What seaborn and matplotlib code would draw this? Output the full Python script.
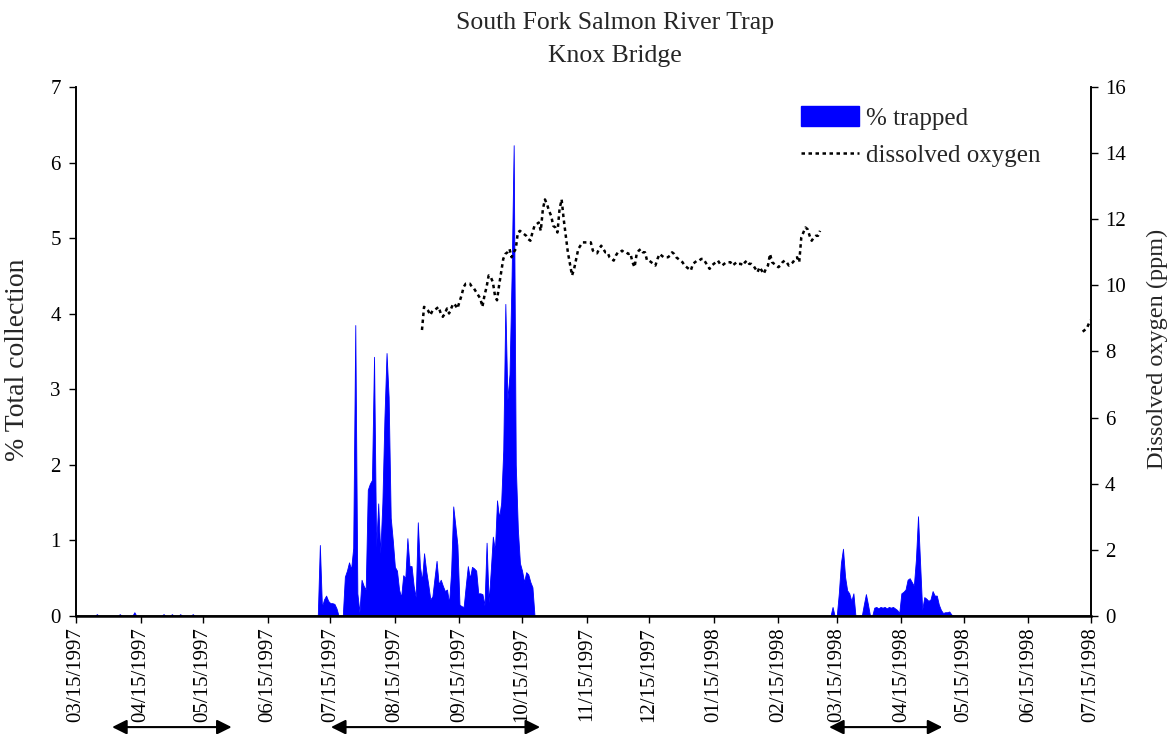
import pandas as pd
import matplotlib
matplotlib.use("Agg")
import matplotlib.pyplot as plt
from matplotlib.patches import Patch
from matplotlib.lines import Line2D
import seaborn as sns

sns.set_theme(style="ticks")
plt.rcParams['font.family'] = ['Liberation Serif', 'DejaVu Serif']

# % trapped, daily values (three runs of trapping + a few early catches)
trap_summer_start = "1997-07-09"
trap_summer = [0.0, 0.94, 0.12, 0.22, 0.27, 0.2, 0.17, 0.17, 0.16, 0.1,
               0.0, 0.0, 0.0, 0.52, 0.6, 0.71, 0.62, 0.9, 3.85, 0.3,
               0.05, 0.48, 0.4, 0.35, 1.67, 1.75, 1.8, 3.43, 0.91, 1.49,
               0.83, 1.5, 2.63, 3.48, 2.9, 1.3, 1.0, 0.65, 0.6, 0.35,
               0.25, 0.54, 0.5, 1.03, 0.66, 0.66, 0.4, 0.25, 1.24, 0.66,
               0.47, 0.83, 0.6, 0.42, 0.22, 0.26, 0.5, 0.73, 0.42, 0.48,
               0.4, 0.33, 0.35, 0.17, 0.6, 1.45, 1.2, 0.94, 0.15, 0.13,
               0.12, 0.4, 0.66, 0.5, 0.65, 0.63, 0.6, 0.3, 0.3, 0.29,
               0.14, 0.97, 0.18, 0.6, 1.05, 0.87, 1.53, 1.3, 1.5, 2.2,
               4.13, 2.86, 3.2, 4.5, 6.23, 2.0, 1.15, 0.7, 0.6, 0.45,
               0.58, 0.55, 0.45, 0.38, 0.0]

trap_spring_start = "1998-03-12"
trap_spring = [0.0, 0.12, 0.0, 0.0, 0.3, 0.7, 0.89, 0.52, 0.34, 0.3,
               0.2, 0.3, 0.0, 0.0, 0.0, 0.0, 0.15, 0.29, 0.15, 0.0,
               0.0, 0.11, 0.12, 0.1, 0.12, 0.11, 0.12, 0.1, 0.12, 0.11,
               0.12, 0.1, 0.08, 0.04, 0.3, 0.32, 0.35, 0.48, 0.5, 0.45,
               0.4, 0.75, 1.32, 0.7, 0.08, 0.25, 0.23, 0.2, 0.22, 0.33,
               0.27, 0.27, 0.15, 0.08, 0.04, 0.05, 0.05, 0.06, 0.02, 0.0]

early_dates = ["1997-03-25", "1997-04-05", "1997-04-12", "1997-04-26",
               "1997-04-30", "1997-05-04", "1997-05-10"]
early_vals = [0.025, 0.025, 0.05, 0.025, 0.025, 0.025, 0.025]

# dissolved oxygen (ppm), daily
do_start = "1997-08-28"
do_vals = [8.65, 9.35, 9.3, 9.23, 9.1, 9.23, 9.25, 9.3, 9.35, 9.15,
           9.05, 9.15, 9.3, 9.15, 9.3, 9.45, 9.4, 9.3, 9.5, 9.7,
           9.95, 10.05, 10.05, 10.05, 9.95, 9.9, 9.8, 9.7, 9.6, 9.35,
           9.7, 9.95, 10.3, 10.25, 10.1, 9.7, 9.55, 10.0, 10.4, 10.8,
           10.95, 11.0, 11.1, 10.85, 11.0, 11.1, 11.6, 11.65, 11.6, 11.55,
           11.5, 11.4, 11.35, 11.6, 11.8, 11.85, 11.9, 11.65, 12.3, 12.6,
           12.45, 12.25, 12.1, 11.8, 11.75, 11.6, 12.3, 12.6, 12.0, 11.5,
           11.0, 10.65, 10.3, 10.5, 10.8, 11.1, 11.2, 11.3, 11.3, 11.3,
           11.3, 11.3, 11.05, 11.0, 10.97, 11.1, 11.2, 11.1, 11.0, 11.0,
           10.85, 10.8, 10.75, 10.9, 11.0, 11.0, 11.05, 11.0, 11.0, 10.95,
           10.97, 10.7, 10.55, 10.95, 11.05, 11.1, 11.0, 11.0, 10.75, 10.75,
           10.7, 10.65, 10.6, 10.8, 10.95, 10.9, 10.85, 10.85, 10.85, 10.9,
           11.0, 10.95, 10.85, 10.8, 10.75, 10.7, 10.6, 10.55, 10.5, 10.45,
           10.65, 10.7, 10.75, 10.75, 10.8, 10.8, 10.7, 10.6, 10.5, 10.6,
           10.65, 10.7, 10.75, 10.65, 10.6, 10.65, 10.7, 10.7, 10.7, 10.6,
           10.65, 10.7, 10.65, 10.65, 10.6, 10.7, 10.75, 10.65, 10.65, 10.6,
           10.5, 10.4, 10.55, 10.45, 10.35, 10.5, 10.6, 10.95, 10.7, 10.65,
           10.6, 10.55, 10.6, 10.7, 10.75, 10.7, 10.6, 10.65, 10.7, 10.8,
           10.85, 10.7, 11.45, 11.6, 11.75, 11.7, 11.5, 11.35, 11.45, 11.5,
           11.5, 11.65]
do_tail_start = "1998-07-11"
do_tail = [8.6, 8.65, 8.7, 8.85, 8.95]

# sampling periods shown as arrows under the axis
arrow_spans = [("1997-03-31", "1997-05-30"),
               ("1997-07-14", "1997-10-25"),
               ("1998-03-10", "1998-05-06")]

x_start, x_end = pd.Timestamp("1997-03-15"), pd.Timestamp("1998-07-15")
tick_dates = pd.date_range("1997-03-01", "1998-07-01", freq="MS") + pd.Timedelta(days=14)

# build full daily % trapped series
days = pd.date_range(x_start, x_end, freq="D")
trap = pd.Series(0.0, index=days)
trap[pd.date_range(trap_summer_start, periods=len(trap_summer))] = trap_summer
trap[pd.date_range(trap_spring_start, periods=len(trap_spring))] = trap_spring
trap[pd.to_datetime(early_dates)] = early_vals

df_do = pd.DataFrame({"date": pd.date_range(do_start, periods=len(do_vals)), "do": do_vals})
df_tail = pd.DataFrame({"date": pd.date_range(do_tail_start, periods=len(do_tail)), "do": do_tail})

fig = plt.figure(figsize=(11.73, 7.34), dpi=100)
ax = fig.add_axes([76 / 1173, 118 / 734, 1015 / 1173, 529 / 734])
ax2 = ax.twinx()

blue = "#0000ff"
ax.fill_between(trap.index, trap.values, 0, color=blue, lw=0.6)

dots = (0, (1.4, 1.4))
sns.lineplot(data=df_do, x="date", y="do", ax=ax2, color="black", lw=1.8, linestyle=dots)
sns.lineplot(data=df_tail, x="date", y="do", ax=ax2, color="black", lw=1.8, linestyle=dots)

ax.set_xlim(x_start, x_end)
ax.set_ylim(0, 7)
ax2.set_ylim(0, 16)
ax.set_yticks(range(0, 8))
ax2.set_yticks(range(0, 17, 2))
ax.set_xticks(tick_dates)
ax.set_xticklabels([d.strftime("%m/%d/%Y") for d in tick_dates], rotation=90)
ax.set_xlabel("")
ax2.set_xlabel("")
ax.set_ylabel("")
ax2.set_ylabel("")

for a in (ax, ax2):
    a.spines["top"].set_visible(False)
    for s in a.spines.values():
        s.set_color("black")
        s.set_linewidth(1.2)
    a.tick_params(direction="out", length=5, width=1, colors="black", labelsize=15)
ax.spines["bottom"].set_linewidth(1.8)
ax.tick_params(axis="y", pad=6)
ax.tick_params(axis="x", pad=3)
ax2.tick_params(axis="y", pad=5)

fig.text(18 / 1173, 1 - 360 / 734, "% Total collection", rotation=90,
         ha="center", va="center", fontsize=20)
fig.text(1157 / 1173, 1 - 349 / 734, "Dissolved oxygen (ppm)", rotation=90,
         ha="center", va="center", fontsize=17.5)
fig.text(615 / 1173, 1 - 12 / 734, "South Fork Salmon River Trap\nKnox Bridge",
         ha="center", va="top", fontsize=18.5, linespacing=1.65)

# arrows under the date axis
for a0, a1 in arrow_spans:
    ax.annotate("", xy=(pd.Timestamp(a1), -0.21), xytext=(pd.Timestamp(a0), -0.21),
                xycoords=("data", "axes fraction"), textcoords=("data", "axes fraction"),
                annotation_clip=False,
                arrowprops=dict(arrowstyle="<|-|>", color="black", lw=1.5, mutation_scale=22))

handles = [Patch(facecolor=blue, edgecolor=blue),
           Line2D([], [], color="black", lw=1.8, linestyle=dots)]
ax2.legend(handles, ["% trapped", "dissolved oxygen"], loc="upper left",
           bbox_to_anchor=(801 / 1173, 1 - 106 / 734), bbox_transform=fig.transFigure,
           frameon=False, fontsize=18, handlelength=2.3, handleheight=0.85,
           borderpad=0, borderaxespad=0, labelspacing=0.55, handletextpad=0.3)

fig.savefig("out.png", dpi=100)
